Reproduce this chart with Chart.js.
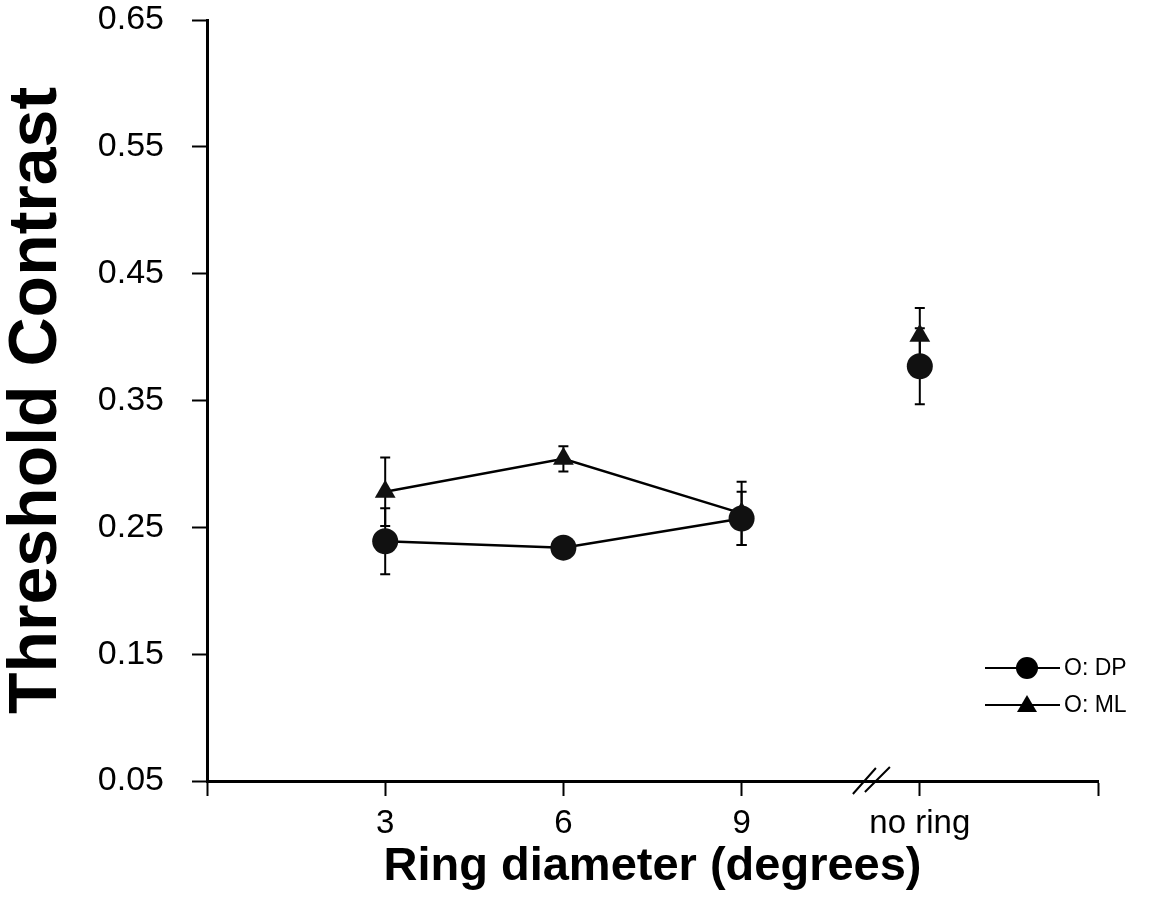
<!DOCTYPE html>
<html>
<head>
<meta charset="utf-8">
<script src="https://cdn.jsdelivr.net/npm/chart.js@4.4.1/dist/chart.umd.min.js"></script>
<style>
  html, body { margin: 0; padding: 0; background: #fff; }
  #wrap { width: 1158px; height: 904px; }
</style>
</head>
<body>
<div id="wrap"><canvas id="chart" width="1158" height="904"></canvas></div>
<script>
// ring diameter categories (placed at x = 1..4 on a 0..5 axis)
var xPos = [1, 2, 3, 4];
var xLabels = ["3", "6", "9", "no ring"];
var yTicks = [0.05, 0.15, 0.25, 0.35, 0.45, 0.55, 0.65];

// observer DP (circles)
var dpVals = [0.239, 0.234, 0.257, 0.377];
var dpErr = [0.026, 0.004, 0.021, 0.030];
// observer ML (triangles)
var mlVals = [0.278, 0.304, 0.261, 0.401];
var mlErr = [0.027, 0.010, 0.025, 0.022];

var breakAt = 3.72; // where the "//" sits on the x axis

function pts(vals) {
  return xPos.map((x, i) => ({ x: x, y: vals[i] }));
}

// no line between "9" and "no ring"
var seg = { borderColor: ctx => ctx.p1DataIndex === 3 ? 'rgba(0,0,0,0)' : '#000' };

var errorBars = {
  id: 'errorBars',
  beforeDatasetsDraw(chart) {
    var ctx = chart.ctx, xs = chart.scales.x, ys = chart.scales.y;
    ctx.save();
    ctx.strokeStyle = '#000';
    ctx.lineWidth = 2;
    [[mlVals, mlErr], [dpVals, dpErr]].forEach(function (s) {
      s[0].forEach(function (v, i) {
        var px = xs.getPixelForValue(xPos[i]);
        var top = ys.getPixelForValue(v + s[1][i]);
        var bot = ys.getPixelForValue(v - s[1][i]);
        ctx.beginPath();
        ctx.moveTo(px, top); ctx.lineTo(px, bot);
        ctx.moveTo(px - 5, top); ctx.lineTo(px + 5, top);
        ctx.moveTo(px - 5, bot); ctx.lineTo(px + 5, bot);
        ctx.stroke();
      });
    });
    ctx.restore();
  }
};

var extras = {
  id: 'extras',
  afterDraw(chart) {
    var ctx = chart.ctx, xs = chart.scales.x, area = chart.chartArea;
    ctx.save();
    // axis break marks
    var bx = xs.getPixelForValue(breakAt);
    var by = area.bottom;
    ctx.strokeStyle = '#000';
    ctx.lineWidth = 2;
    ctx.beginPath();
    ctx.moveTo(bx - 17, by + 13); ctx.lineTo(bx + 6, by - 13);
    ctx.moveTo(bx - 5, by + 11); ctx.lineTo(bx + 20, by - 14);
    ctx.stroke();

    // legend
    var lx = 985, items = [['O: DP', 'circle', 668], ['O: ML', 'triangle', 705]];
    items.forEach(function (it) {
      var y = it[2];
      ctx.lineWidth = 2;
      ctx.beginPath();
      ctx.moveTo(lx, y); ctx.lineTo(lx + 75, y);
      ctx.stroke();
      ctx.fillStyle = '#000';
      ctx.beginPath();
      if (it[1] === 'circle') {
        ctx.arc(lx + 42, y, 11, 0, Math.PI * 2);
      } else {
        ctx.moveTo(lx + 42, y - 10);
        ctx.lineTo(lx + 52, y + 7);
        ctx.lineTo(lx + 32, y + 7);
        ctx.closePath();
      }
      ctx.fill();
      ctx.font = '23px "Liberation Sans", Arial, sans-serif';
      ctx.textBaseline = 'middle';
      ctx.fillText(it[0], lx + 79, y + 1);
    });
    ctx.restore();
  }
};

new Chart(document.getElementById('chart'), {
  type: 'line',
  data: {
    datasets: [
      {
        label: 'O: DP',
        data: pts(dpVals),
        borderColor: '#000',
        borderWidth: 2.5,
        backgroundColor: '#111',
        pointStyle: 'circle',
        pointRadius: 13,
        pointBorderWidth: 0,
        segment: seg
      },
      {
        label: 'O: ML',
        data: pts(mlVals),
        borderColor: '#000',
        borderWidth: 2.5,
        backgroundColor: '#111',
        pointStyle: 'triangle',
        pointRadius: 12,
        pointBorderWidth: 0,
        segment: seg
      }
    ]
  },
  options: {
    responsive: false,
    animation: false,
    layout: { padding: { left: 0, top: 20, right: 60, bottom: 0 } },
    plugins: { legend: { display: false }, tooltip: { enabled: false } },
    scales: {
      x: {
        type: 'linear',
        min: 0,
        max: 5,
        afterBuildTicks: s => { s.ticks = [0, 1, 2, 3, 4, 5].map(v => ({ value: v })); },
        afterFit: s => { s.height = 123; },
        grid: { drawOnChartArea: false, drawTicks: true, tickLength: 15, tickWidth: 2, tickColor: '#000' },
        border: { display: true, color: '#000', width: 3 },
        ticks: {
          padding: 8,
          color: '#000',
          maxRotation: 0,
          font: { family: '"Liberation Sans", Arial, sans-serif', size: 33 },
          callback: v => (v >= 1 && v <= 4) ? xLabels[v - 1] : ''
        },
        title: {
          display: true,
          text: 'Ring diameter (degrees)',
          color: '#000',
          padding: { top: 0, bottom: 9 },
          font: { family: '"Liberation Sans", Arial, sans-serif', size: 47, weight: 'bold' }
        }
      },
      y: {
        min: 0.05,
        max: 0.65,
        afterBuildTicks: s => { s.ticks = yTicks.map(v => ({ value: v })); },
        afterFit: s => { s.width = 207; s.paddingTop = 0; },
        grid: { drawOnChartArea: false, drawTicks: true, tickLength: 15, tickWidth: 2, tickColor: '#000' },
        border: { display: true, color: '#000', width: 3 },
        ticks: {
          padding: 28,
          color: '#000',
          font: { family: '"Liberation Sans", Arial, sans-serif', size: 34 },
          callback: v => v.toFixed(2)
        },
        title: {
          display: true,
          text: 'Threshold Contrast',
          color: '#000',
          padding: { top: -4, bottom: 0 },
          font: { family: '"Liberation Sans", Arial, sans-serif', size: 68, weight: 'bold' }
        }
      }
    }
  },
  plugins: [errorBars, extras]
});
</script>
</body>
</html>
